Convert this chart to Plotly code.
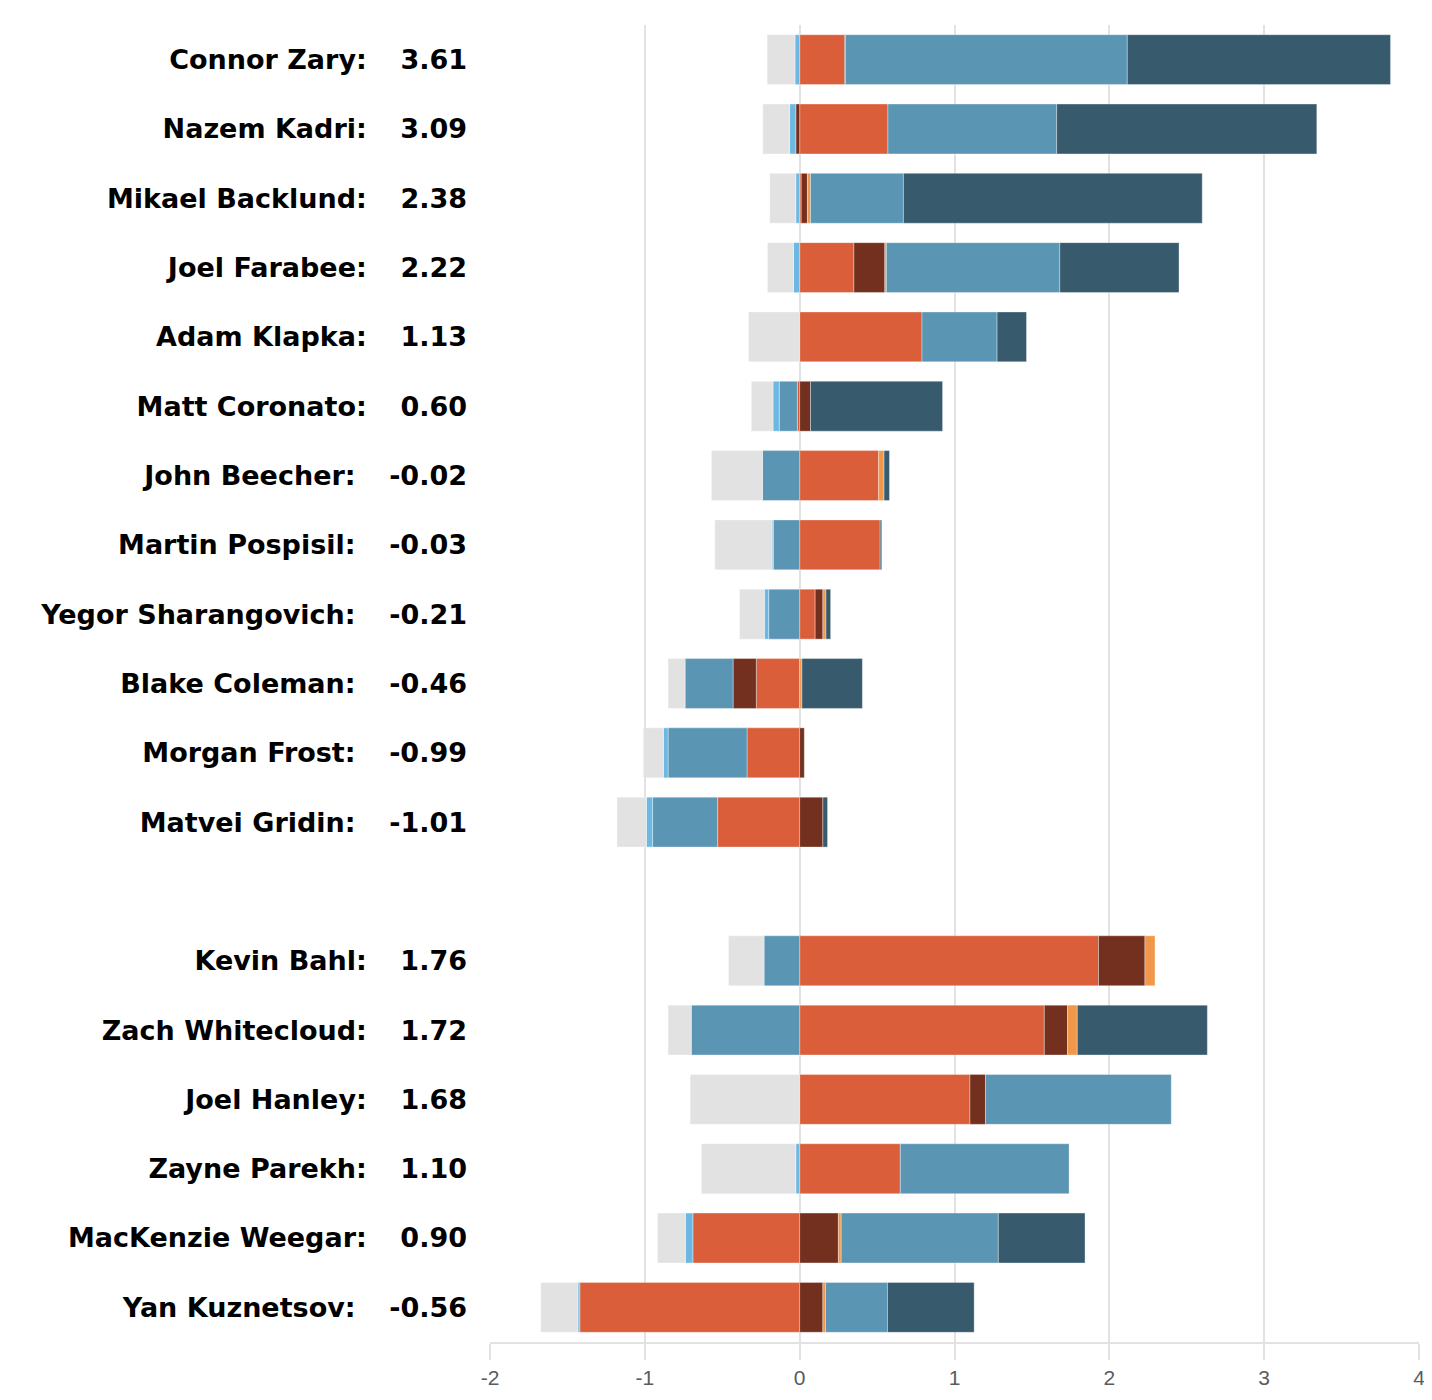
import plotly.graph_objects as go

# ---- data -------------------------------------------------------------
players = ["Connor Zary", "Nazem Kadri", "Mikael Backlund", "Joel Farabee",
           "Adam Klapka", "Matt Coronato", "John Beecher", "Martin Pospisil",
           "Yegor Sharangovich", "Blake Coleman", "Morgan Frost", "Matvei Gridin",
           "",
           "Kevin Bahl", "Zach Whitecloud", "Joel Hanley", "Zayne Parekh",
           "MacKenzie Weegar", "Yan Kuznetsov"]

ratings = [3.61, 3.09, 2.38, 2.22, 1.13, 0.60, -0.02, -0.03, -0.21, -0.46, -0.99, -1.01,
           None,
           1.76, 1.72, 1.68, 1.10, 0.90, -0.56]

seg_orange_red = [0.29, 0.57, 0.01, 0.35, 0.79, -0.015, 0.51, 0.52, 0.10, -0.28, -0.34, -0.53,
                  None,
                  1.93, 1.58, 1.10, 0.65, -0.69, -1.42]
seg_dark_brown = [0.006, -0.025, 0.04, 0.20, 0, 0.07, 0, 0, 0.05, -0.15, 0.03, 0.15,
                  None,
                  0.30, 0.15, 0.10, 0, 0.25, 0.15]
seg_orange = [0, 0, 0.02, 0.01, 0, 0, 0.035, 0, 0.02, 0.015, 0, 0,
              None,
              0.065, 0.063, 0, 0, 0.018, 0.017]
seg_steel_blue = [1.82, 1.09, 0.60, 1.12, 0.485, -0.117, -0.24, -0.17, -0.20, -0.31, -0.51, -0.42,
                  None,
                  -0.23, -0.70, 1.20, 1.09, 1.015, 0.40]
seg_light_blue = [-0.03, -0.04, -0.025, -0.04, 0, -0.04, 0, -0.008, -0.028, 0, -0.03, -0.04,
                  None,
                  0, 0, 0, -0.025, -0.048, -0.012]
seg_dark_slate = [1.70, 1.68, 1.93, 0.77, 0.19, 0.853, 0.035, 0.01, 0.03, 0.39, 0, 0.03,
                  None,
                  0, 0.84, 0, 0, 0.56, 0.56]
seg_grey = [-0.18, -0.173, -0.168, -0.168, -0.33, -0.14, -0.33, -0.37, -0.16, -0.11, -0.13, -0.19,
            None,
            -0.23, -0.15, -0.707, -0.61, -0.18, -0.24]

x_ticks = [-2, -1, 0, 1, 2, 3, 4]

# ---- styling ----------------------------------------------------------
series = [
    ("Orange-red", seg_orange_red, "#D95E39"),
    ("Dark brown", seg_dark_brown, "#73301F"),
    ("Orange", seg_orange, "#F0974A"),
    ("Steel blue", seg_steel_blue, "#5B95B4"),
    ("Light blue", seg_light_blue, "#6DB8E2"),
    ("Dark slate", seg_dark_slate, "#375A6D"),
    ("Grey", seg_grey, "#E2E2E2"),
]

cats = [p if p else " " for p in players]
GAP = "\u00a0" * 3 + "\u2009"
labels = []
for p, r in zip(players, ratings):
    if r is None:
        labels.append("")
    else:
        labels.append(f"{p}:{GAP}{r:.2f}")

fig = go.Figure()
for name, vals, color in series:
    xs = [None if (v is None or v == 0) else v for v in vals]
    fig.add_trace(go.Bar(
        y=cats, x=xs, orientation="h", name=name,
        marker=dict(color=color, line=dict(color="rgba(255,255,255,0.35)", width=1)),
        showlegend=False,
    ))

# page body has an 8px margin; size the figure so the picture lines up
fig.update_layout(
    width=1424, height=1384,
    barmode="relative",
    bargap=0.28,
    plot_bgcolor="white", paper_bgcolor="white",
    margin=dict(l=482, r=13, t=17, b=50),
    font=dict(family="Liberation Sans, Arial, sans-serif"),
)
fig.update_xaxes(
    range=[-2, 4],
    tickvals=x_ticks,
    ticktext=[str(t) for t in x_ticks],
    showgrid=True, gridcolor="#E2E2E2", gridwidth=2,
    zeroline=False,
    showline=True, linecolor="#E2E2E2", linewidth=2,
    ticks="outside", ticklen=16, tickwidth=2, tickcolor="#E2E2E2",
    tickfont=dict(family="Liberation Sans, Arial, sans-serif", size=21, color="#575C61"),
    automargin=False,
)
fig.update_yaxes(
    type="category",
    categoryorder="array", categoryarray=cats,
    autorange="reversed",
    tickvals=cats, ticktext=labels,
    showgrid=False, zeroline=False, showline=False,
    ticks="",
    ticklabelstandoff=22,
    automargin=False,
    tickfont=dict(family="DejaVu Sans, sans-serif", size=27, color="#000000", weight="bold"),
)

fig.write_html("out.html")
